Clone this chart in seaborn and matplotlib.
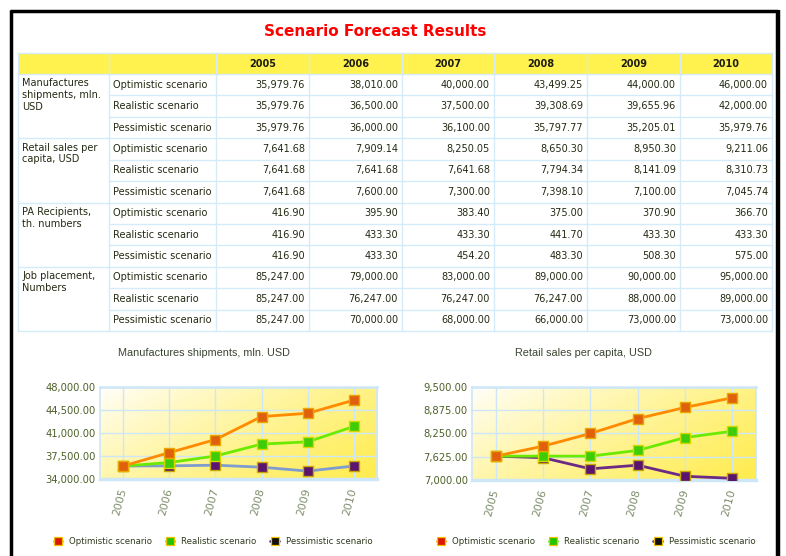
import numpy as np
import pandas as pd
import matplotlib
matplotlib.use("Agg")
import matplotlib.pyplot as plt
from matplotlib.patches import Rectangle
from matplotlib.lines import Line2D
import seaborn as sns

# ---------------- data ----------------
years = ["2005", "2006", "2007", "2008", "2009", "2010"]
scenarios = ["Optimistic scenario", "Realistic scenario", "Pessimistic scenario"]
indicators = ["Manufactures\nshipments, mln.\nUSD", "Retail sales per\ncapita, USD",
              "PA Recipients,\nth. numbers", "Job placement,\nNumbers"]

mfg_opt = [35979.76, 38010.00, 40000.00, 43499.25, 44000.00, 46000.00]
mfg_real = [35979.76, 36500.00, 37500.00, 39308.69, 39655.96, 42000.00]
mfg_pess = [35979.76, 36000.00, 36100.00, 35797.77, 35205.01, 35979.76]

retail_opt = [7641.68, 7909.14, 8250.05, 8650.30, 8950.30, 9211.06]
retail_real = [7641.68, 7641.68, 7641.68, 7794.34, 8141.09, 8310.73]
retail_pess = [7641.68, 7600.00, 7300.00, 7398.10, 7100.00, 7045.74]

pa_opt = [416.90, 395.90, 383.40, 375.00, 370.90, 366.70]
pa_real = [416.90, 433.30, 433.30, 441.70, 433.30, 433.30]
pa_pess = [416.90, 433.30, 454.20, 483.30, 508.30, 575.00]

job_opt = [85247.00, 79000.00, 83000.00, 89000.00, 90000.00, 95000.00]
job_real = [85247.00, 76247.00, 76247.00, 76247.00, 88000.00, 89000.00]
job_pess = [85247.00, 70000.00, 68000.00, 66000.00, 73000.00, 73000.00]

chart_titles = ["Manufactures shipments, mln. USD", "Retail sales per capita, USD"]
mfg_ticks = [34000, 37500, 41000, 44500, 48000]
retail_ticks = [7000, 7625, 8250, 8875, 9500]

table_groups = [
    [mfg_opt, mfg_real, mfg_pess],
    [retail_opt, retail_real, retail_pess],
    [pa_opt, pa_real, pa_pess],
    [job_opt, job_real, job_pess],
]

# ---------------- style ----------------
sns.set_style("white")
plt.rcParams["font.family"] = ["DejaVu Sans"]

W, H = 786, 556
fig = plt.figure(figsize=(W / 100, H / 100), dpi=100)
fig.patch.set_facecolor("white")

bg = fig.add_axes([0, 0, 1, 1], zorder=0)
bg.set_xlim(0, W)
bg.set_ylim(H, 0)
bg.axis("off")

# outer frame
bg.plot([11, 11], [10, H + 5], color="black", lw=2.5, solid_capstyle="butt")
bg.plot([10, 778], [11, 11], color="black", lw=2.5, solid_capstyle="butt")
bg.plot([777.5, 777.5], [10, H + 5], color="black", lw=3.2, solid_capstyle="butt")

# title
bg.text(375, 32, "Scenario Forecast Results", color="#FF0000", fontsize=11,
        fontweight="bold", ha="center", va="center")

# ---------------- table ----------------
text_col = "#222A12"
grid_col = "#D6EBFA"
cols = [18, 109, 216, 309, 402, 494, 587, 680, 772]
top, head_bot = 53, 74
rh = (331 - 74) / 12.0
bottom = head_bot + 12 * rh

bg.add_patch(Rectangle((cols[0], top), cols[-1] - cols[0], head_bot - top,
                       facecolor="#FFF24E", edgecolor="none"))
for c in cols:
    bg.plot([c, c], [top, bottom], color=grid_col, lw=1)
bg.plot([cols[0], cols[-1]], [top, top], color=grid_col, lw=1)
for r in range(13):
    y = head_bot + r * rh
    x0 = cols[0] if r % 3 == 0 else cols[1]
    bg.plot([x0, cols[-1]], [y, y], color=grid_col, lw=1)

for j, yr in enumerate(years):
    bg.text((cols[2 + j] + cols[3 + j]) / 2, (top + head_bot) / 2 + 0.5, yr,
            fontsize=7.0, fontweight="bold", ha="center", va="center", color="#1E1E10")

for g, (label, group) in enumerate(zip(indicators, table_groups)):
    gy = head_bot + g * 3 * rh
    bg.text(22, gy + 4.5, label, fontsize=7.0, ha="left", va="top", color=text_col,
            linespacing=1.2)
    for s, (sname, vals) in enumerate(zip(scenarios, group)):
        cy = gy + (s + 0.5) * rh
        bg.text(113, cy, sname, fontsize=7.0, ha="left", va="center", color=text_col)
        for j, v in enumerate(vals):
            bg.text(cols[3 + j] - 4, cy, f"{v:,.2f}", fontsize=7.0, ha="right",
                    va="center", color=text_col)

# ---------------- charts ----------------
line_cols_l = {"Optimistic scenario": "#FF8A00", "Realistic scenario": "#6BEA00",
               "Pessimistic scenario": "#7F9CCF"}
line_cols_r = {"Optimistic scenario": "#FF8A00", "Realistic scenario": "#6BEA00",
               "Pessimistic scenario": "#6A2A86"}
mk_face = {"Optimistic scenario": "#E0600E", "Realistic scenario": "#3FCC08",
           "Pessimistic scenario": "#5A136E"}
mk_edge = {"Optimistic scenario": "#E8A800", "Realistic scenario": "#D8D800",
           "Pessimistic scenario": "#C8A800"}
leg_face = {"Optimistic scenario": "#D81800", "Realistic scenario": "#22C400",
            "Pessimistic scenario": "#101010"}
leg_line = {"Optimistic scenario": "#FF9000", "Realistic scenario": "#44DD00",
            "Pessimistic scenario": "#5A3C9A"}


def px_rect(x0, y0, x1, y1):
    return [x0 / W, 1 - y1 / H, (x1 - x0) / W, (y1 - y0) / H]


def gradient(ax):
    nx, ny = 200, 100
    xx, yy = np.meshgrid(np.linspace(0, 1, nx), np.linspace(1, 0, ny))
    t = np.clip((xx * 0.75 + (1 - yy) * 0.45) / 1.2, 0, 1) ** 0.8
    white = np.array([1.0, 1.0, 1.0])
    yellow = np.array([1.0, 0.925, 0.30])
    img = white[None, None, :] * (1 - t[..., None]) + yellow[None, None, :] * t[..., None]
    ax.imshow(img, extent=[0, 1, 0, 1], transform=ax.transAxes, aspect="auto",
              zorder=0, interpolation="bilinear")


def draw_chart(rect, series, yticks, title, title_xy, line_cols, legend_xy):
    ax = fig.add_axes(rect, zorder=2)
    gradient(ax)
    rows = []
    for sname, vals in series:
        for i, v in enumerate(vals):
            rows.append({"x": i, "value": v, "scenario": sname})
    df = pd.DataFrame(rows)
    order = ["Pessimistic scenario", "Realistic scenario", "Optimistic scenario"]
    for sname in order:
        sub = df[df["scenario"] == sname]
        sns.lineplot(data=sub, x="x", y="value", color=line_cols[sname], lw=2.0,
                     ax=ax, legend=False, zorder=3, sort=False)
        sns.scatterplot(data=sub, x="x", y="value", marker="s", s=52,
                        color=mk_face[sname], edgecolor=mk_edge[sname], linewidth=1.0,
                        ax=ax, legend=False, zorder=4)
    ax.set_xlim(-0.5, len(years) - 0.5)
    ax.set_ylim(yticks[0], yticks[-1])
    ax.set_yticks(yticks)
    ax.set_yticklabels([f"{t:,.2f}" for t in yticks], fontsize=7.2, color="#4E6128")
    ax.set_xticks(range(len(years)))
    ax.set_xticklabels(years, fontsize=7.8, color="#7E8E6C", rotation=75,
                       ha="right", va="center", rotation_mode="anchor")
    ax.tick_params(axis="x", length=0, pad=7)
    ax.tick_params(axis="y", length=0, pad=3)
    ax.set_xlabel("")
    ax.set_ylabel("")
    ax.grid(True, color="#CDE6F8", lw=1.0, zorder=1)
    ax.set_axisbelow(False)
    for gl in ax.get_xgridlines() + ax.get_ygridlines():
        gl.set_zorder(1)
    for side, sp in ax.spines.items():
        sp.set_visible(True)
        sp.set_color("#CDE6F8")
        sp.set_linewidth(1.2)
    ax.spines["bottom"].set_linewidth(2.5)
    ax.spines["top"].set_linewidth(1.8)
    bg.text(title_xy[0], title_xy[1], title, fontsize=7.8, family="Liberation Sans",
            color="#3A4530", ha="center", va="center")
    handles = [Line2D([0], [0], color=leg_line[s], lw=2.0, marker="s", markersize=5.5,
                      markerfacecolor=leg_face[s], markeredgecolor="#F2C200",
                      markeredgewidth=0.9) for s in scenarios]
    fig.legend(handles, scenarios, loc="center",
               bbox_to_anchor=(legend_xy[0] / W, 1 - legend_xy[1] / H),
               ncol=3, frameon=False, fontsize=6.2, handlelength=1.0,
               handletextpad=0.8, columnspacing=1.6, labelcolor="#2F3A1F")
    return ax


draw_chart(px_rect(100, 387, 377, 479),
           [("Optimistic scenario", mfg_opt), ("Realistic scenario", mfg_real),
            ("Pessimistic scenario", mfg_pess)],
           mfg_ticks, chart_titles[0], (204, 353), line_cols_l, (213, 542))
draw_chart(px_rect(472, 387, 756, 480),
           [("Optimistic scenario", retail_opt), ("Realistic scenario", retail_real),
            ("Pessimistic scenario", retail_pess)],
           retail_ticks, chart_titles[1], (583, 353), line_cols_r, (596, 542))

fig.savefig("out.png", dpi=100)
